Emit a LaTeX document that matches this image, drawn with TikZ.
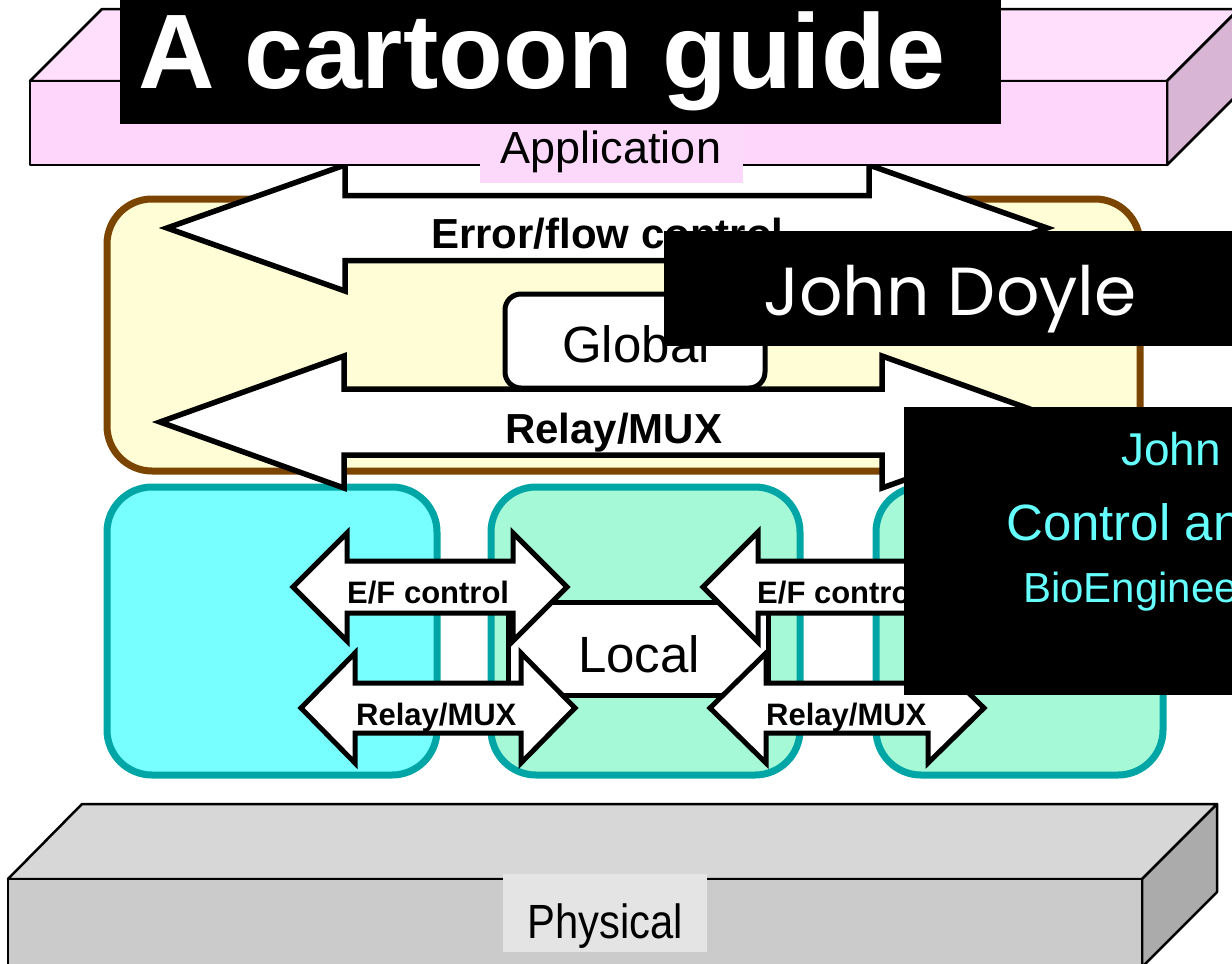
\documentclass[tikz,border=0pt]{standalone}
\usepackage{fontspec}
\setmainfont{Liberation Sans}
\newfontfamily\handfont{Poppins}

\definecolor{apptop}{HTML}{FFDFFC}
\definecolor{appfront}{HTML}{FFD6FB}
\definecolor{appside}{HTML}{D8B4D5}
\definecolor{applabel}{HTML}{FCD8FA}
\definecolor{phystop}{HTML}{D7D7D7}
\definecolor{physfront}{HTML}{CBCBCB}
\definecolor{physside}{HTML}{ABABAB}
\definecolor{physlabel}{HTML}{E4E4E4}
\definecolor{globalfill}{HTML}{FFFDD6}
\definecolor{globaledge}{HTML}{7B4500}
\definecolor{tealedge}{HTML}{00A6A6}
\definecolor{cyanfill}{HTML}{77FFFF}
\definecolor{mintfill}{HTML}{A6F9D6}
\definecolor{namecyan}{HTML}{66FFFF}

% a horizontal double-headed block arrow:
% #1 style, #2 left tip x, #3 right tip x, #4 centre y,
% #5 head length, #6 half head height, #7 half shaft height
\newcommand{\dblblockarrow}[7]{%
  \filldraw[#1] (#2,#4) -- ({#2+#5},{#4-#6}) -- ({#2+#5},{#4-#7})
    -- ({#3-#5},{#4-#7}) -- ({#3-#5},{#4-#6}) -- (#3,#4)
    -- ({#3-#5},{#4+#6}) -- ({#3-#5},{#4+#7}) -- ({#2+#5},{#4+#7})
    -- ({#2+#5},{#4+#6}) -- cycle;}

\tikzset{
  slabedge/.style={draw=black, line width=2.5pt, line join=round},
  bigarrow/.style={draw=black, fill=white, line width=5.5pt, miter limit=12},
  smallarrow/.style={draw=black, fill=white, line width=5pt, miter limit=12},
  layerbox/.style={line width=7pt, rounded corners=45pt},
  bigtext/.style={font=\bfseries\fontsize{42}{42}\selectfont, inner sep=0pt},
  smalltext/.style={font=\bfseries\fontsize{31}{31}\selectfont, inner sep=0pt},
  boxtext/.style={font=\fontsize{51}{51}\selectfont, inner sep=0pt},
}

\begin{document}
\begin{tikzpicture}[x=1pt,y=-1pt]
\clip (0,0) rectangle (1232,964);

% physical slab
\filldraw[slabedge, fill=phystop] (8,879) -- (82,804) -- (1217,804) -- (1142,879) -- cycle;
\filldraw[slabedge, fill=physside] (1142,879) -- (1217,804) -- (1217,892) -- (1142,967) -- cycle;
\filldraw[slabedge, fill=physfront] (8,879) rectangle (1142,967);
\fill[physlabel] (503,874) rectangle (707,952);
\node[anchor=base, inner sep=0pt, font=\fontsize{48}{48}\selectfont] (physical) at (605,938) {\scalebox{0.87}[1]{Physical}};

% global layer
\filldraw[layerbox, draw=globaledge, fill=globalfill] (107,199) rectangle (1140,471);
\filldraw[line width=5pt, rounded corners=16pt, fill=white] (505,294) rectangle (765,388);
\node[boxtext, anchor=base] (global) at (636,362) {Global};

% local layer boxes
\filldraw[layerbox, draw=tealedge, fill=cyanfill] (107,487) rectangle (437,775);
\filldraw[layerbox, draw=tealedge, fill=mintfill] (491,487) rectangle (800,775);
\filldraw[layerbox, draw=tealedge, fill=mintfill] (876,487) rectangle (1163,775);

% global arrows
\dblblockarrow{bigarrow}{167}{1047}{228}{178}{63}{32.5}
\node[bigtext, anchor=base west] (errflow) at (431,248) {Error/flow control};
\dblblockarrow{bigarrow}{160}{1066}{422}{184}{66}{33}
\node[bigtext, anchor=base west] (relaybig) at (505,443) {Relay/MUX};

% application slab
\filldraw[slabedge, fill=apptop] (30,81) -- (102,9) -- (1239,9) -- (1167,81) -- cycle;
\filldraw[slabedge, fill=appside] (1167,81) -- (1239,9) -- (1239,93) -- (1167,165) -- cycle;
\filldraw[slabedge, fill=appfront] (30,81) rectangle (1167,165);
\fill[applabel] (480,118) rectangle (743,183);
\node[anchor=base, inner sep=0pt, font=\fontsize{45}{45}\selectfont] (application) at (611,163) {Application};

% local box
\filldraw[line width=5pt, fill=white] (508,602) rectangle (768,695);
\node[boxtext, anchor=base] (local) at (639,672) {Local};

% local arrows
\dblblockarrow{smallarrow}{293}{567}{587}{54}{54}{26}
\node[smalltext, anchor=base west] (efleft) at (347,603) {E/F control};
\dblblockarrow{smallarrow}{301}{575}{708}{54}{55}{25}
\node[smalltext, anchor=base west] (relayleft) at (356,725) {Relay/MUX};
\dblblockarrow{smallarrow}{703}{977}{587}{55}{55}{26}
\node[smalltext, anchor=base west] (efright) at (757,603) {E/F control};
\dblblockarrow{smallarrow}{710}{984}{708}{56}{55}{25}
\node[smalltext, anchor=base west] (relayright) at (766,725) {Relay/MUX};

% title banner
\fill[black] (120,-5) rectangle (1001,124);
\node[anchor=base west, inner sep=0pt, text=white, font=\bfseries\fontsize{106}{106}\selectfont] (title) at (138,88) {A cartoon guide};

% author banners
\fill[black] (664,231) rectangle (1240,346);
\node[anchor=base west, inner sep=0pt, text=white, font=\handfont\fontsize{68}{68}\selectfont] (author) at (763,315) {John Doyle};
\fill[black] (904,407) rectangle (1240,695);
\node[anchor=base west, inner sep=0pt, text=namecyan, font=\fontsize{46}{46}\selectfont] (name) at (1121,465) {John};
\node[anchor=base west, inner sep=0pt, text=namecyan, font=\fontsize{51}{51}\selectfont] (dept) at (1006,540) {Control and};
\node[anchor=base west, inner sep=0pt, text=namecyan, font=\fontsize{42}{42}\selectfont] (bio) at (1023,602) {BioEngineering};
\end{tikzpicture}
\end{document}
